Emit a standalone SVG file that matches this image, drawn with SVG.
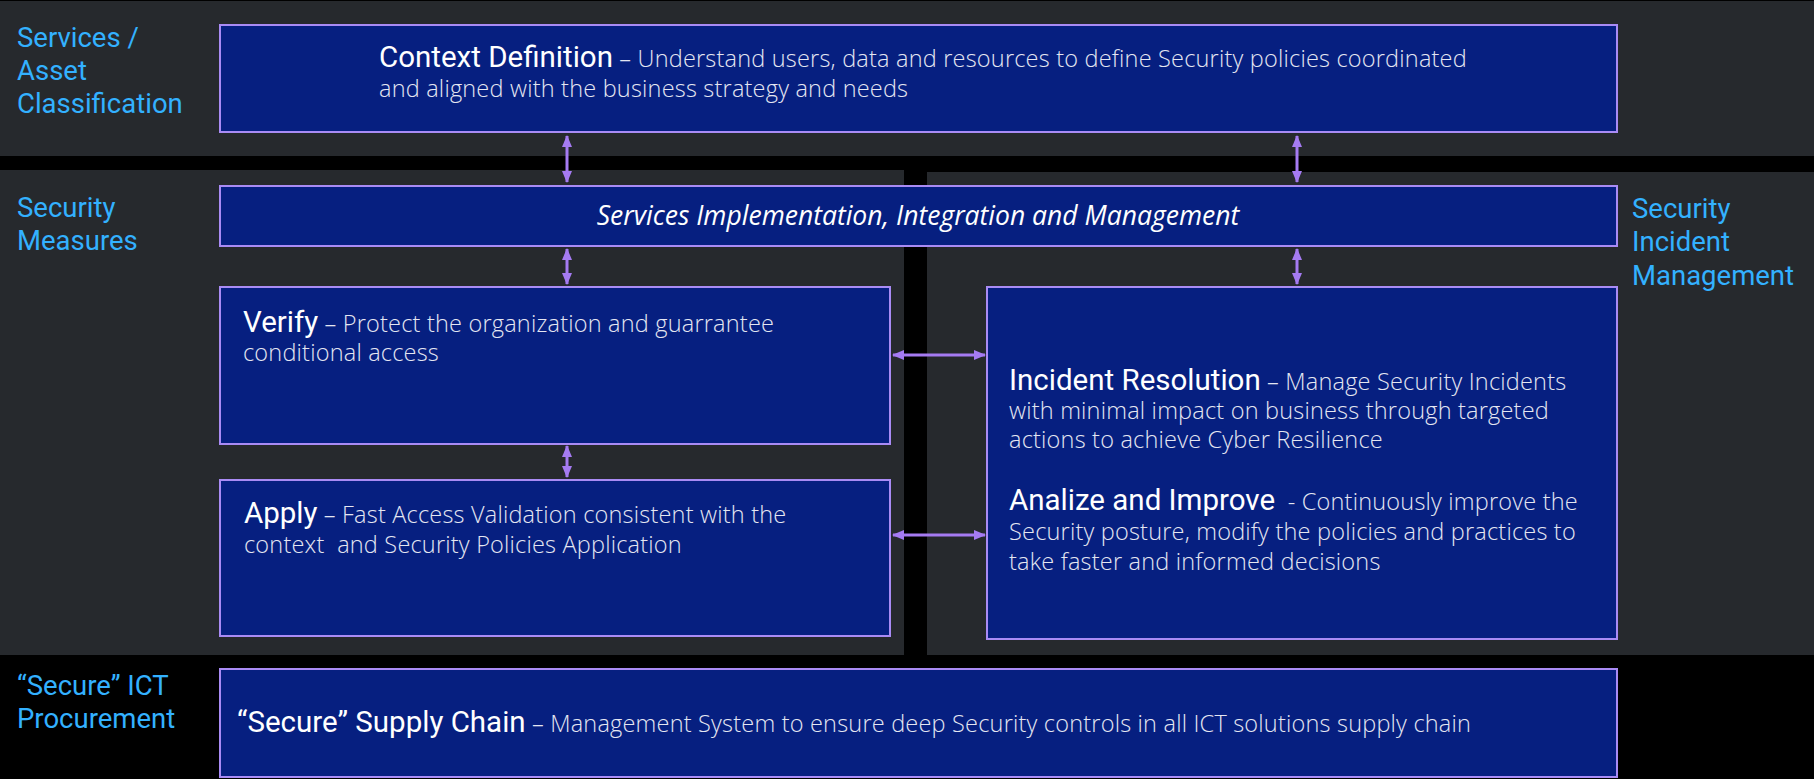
<svg xmlns="http://www.w3.org/2000/svg" width="1814" height="779" viewBox="0 0 1814 779">
<style>
.band{fill:#26292d}
.box{fill:#061f80;stroke:#a98bf5;stroke-width:2}
.lbl{font-family:Roboto,"Liberation Sans",sans-serif;font-size:27.5px;fill:#33b1ff}
.t{font-family:Roboto,"Liberation Sans",sans-serif;fill:#ffffff}
.h{font-family:Roboto,"Liberation Sans",sans-serif;font-size:29.5px;font-weight:400;letter-spacing:0}
.b{font-family:"Open Sans","Liberation Sans",sans-serif;font-size:23.5px;font-weight:300;letter-spacing:0.2px;fill:#e4e6f2}
.it{font-family:"Open Sans","Liberation Sans",sans-serif;font-style:italic;font-size:26.5px;fill:#ffffff}
.con{stroke:#a57bf2;stroke-width:3;fill:none;marker-start:url(#ah);marker-end:url(#ah)}
</style>
<defs>
<marker id="ah" viewBox="0 0 12 10" refX="11" refY="5" markerWidth="12" markerHeight="10" markerUnits="userSpaceOnUse" orient="auto-start-reverse">
<path d="M0,0 L12,5 L0,10 Z" fill="#a57bf2"/>
</marker>
</defs>
<rect width="1814" height="779" fill="#000"/>
<rect class="band" x="0" y="1" width="1814" height="155"/>
<rect class="band" x="0" y="170" width="904" height="485"/>
<rect class="band" x="927" y="172" width="887" height="483"/>

<g id="label-services">
<text class="lbl" x="17" y="47">Services /</text>
<text class="lbl" x="17" y="80">Asset</text>
<text class="lbl" x="17" y="113">Classification</text>
</g>
<g id="label-measures">
<text class="lbl" x="17" y="217">Security</text>
<text class="lbl" x="17" y="250">Measures</text>
</g>
<g id="label-incident">
<text class="lbl" x="1632" y="218">Security</text>
<text class="lbl" x="1632" y="251">Incident</text>
<text class="lbl" x="1632" y="285">Management</text>
</g>
<g id="label-procurement">
<text class="lbl" x="17" y="695">“Secure” ICT</text>
<text class="lbl" x="17" y="728">Procurement</text>
</g>

<g id="context-definition">
<rect class="box" x="220" y="25" width="1397" height="107"/>
<text class="t" x="379" y="67"><tspan class="h">Context Definition</tspan><tspan class="b"> – Understand users, data and resources to define Security policies coordinated</tspan></text>
<text class="t b" x="379" y="97">and aligned with the business strategy and needs</text>
</g>

<g id="services-implementation">
<rect class="box" x="220" y="186" width="1397" height="60"/>
<text class="it" x="918" y="225" text-anchor="middle">Services Implementation, Integration and Management</text>
</g>

<g id="verify">
<rect class="box" x="220" y="287" width="670" height="157"/>
<text class="t" x="243" y="332"><tspan class="h">Verify</tspan><tspan class="b"> – Protect the organization and guarrantee</tspan></text>
<text class="t b" x="243" y="361">conditional access</text>
</g>

<g id="apply">
<rect class="box" x="220" y="480" width="670" height="156"/>
<text class="t" x="244" y="523"><tspan class="h">Apply</tspan><tspan class="b"> – Fast Access Validation consistent with the</tspan></text>
<text class="t b" x="244" y="553" xml:space="preserve">context  and Security Policies Application</text>
</g>

<g id="incident-resolution">
<rect class="box" x="987" y="287" width="630" height="352"/>
<text class="t" x="1009" y="390"><tspan class="h">Incident Resolution</tspan><tspan class="b"> – Manage Security Incidents</tspan></text>
<text class="t b" x="1009" y="419">with minimal impact on business through targeted</text>
<text class="t b" x="1009" y="448">actions to achieve Cyber Resilience</text>
<text class="t" x="1009" y="510" xml:space="preserve"><tspan class="h">Analize and Improve</tspan><tspan class="b">  - Continuously improve the</tspan></text>
<text class="t b" x="1009" y="540">Security posture, modify the policies and practices to</text>
<text class="t b" x="1009" y="570">take faster and informed decisions</text>
</g>

<g id="supply-chain">
<rect class="box" x="220" y="669" width="1397" height="108"/>
<text class="t" x="237" y="732"><tspan class="h">“Secure” Supply Chain</tspan><tspan class="b"> – Management System to ensure deep Security controls in all ICT solutions supply chain</tspan></text>
</g>

<g id="connectors">
<line class="con" x1="567" y1="136" x2="567" y2="182"/>
<line class="con" x1="1297" y1="136" x2="1297" y2="182"/>
<line class="con" x1="567" y1="249" x2="567" y2="284"/>
<line class="con" x1="1297" y1="249" x2="1297" y2="284"/>
<line class="con" x1="567" y1="446" x2="567" y2="477"/>
<line class="con" x1="893" y1="355" x2="985" y2="355"/>
<line class="con" x1="893" y1="535" x2="985" y2="535"/>
</g>
</svg>
